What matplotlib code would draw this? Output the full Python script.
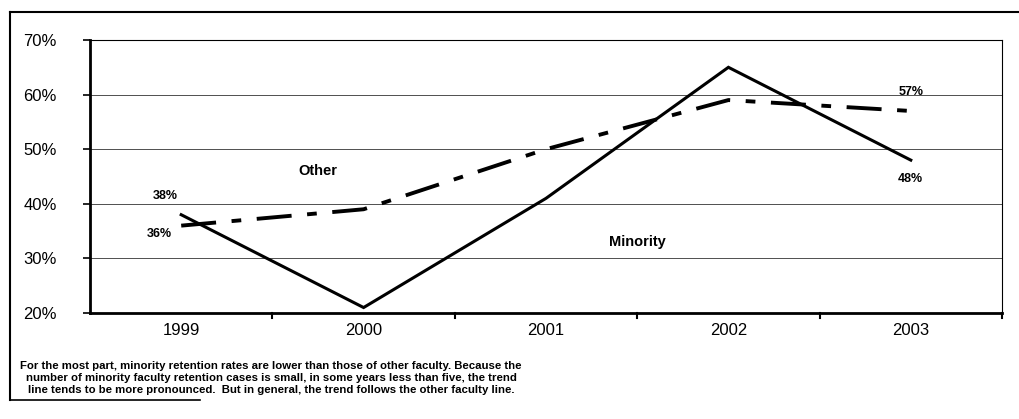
import matplotlib.pyplot as plt
from matplotlib.lines import Line2D

years = ["1999", "2000", "2001", "2002", "2003"]
minority = [38, 21, 41, 65, 48]
other = [36, 39, 50, 59, 57]
y_ticks = [20, 30, 40, 50, 60, 70]

plt.rcParams["font.family"] = ["Liberation Sans", "DejaVu Sans"]

fig = plt.figure(figsize=(10.2, 4.19), dpi=100)
ax = fig.add_axes([90 / 1020, 106 / 419, 912 / 1020, 273 / 419])

x = list(range(len(years)))

# gridlines
for v in y_ticks[1:-1]:
    ax.axhline(v, color="#333333", lw=0.6, zorder=1)

ax.plot(x, minority, color="black", lw=2.2, solid_joinstyle="miter", zorder=3)
ax.plot(x, other, color="black", lw=2.8, dashes=(9, 4, 2.5, 4), zorder=3)

ax.set_xlim(-0.5, len(years) - 0.5)
ax.set_ylim(20, 70)
ax.set_yticks(y_ticks)
ax.set_yticklabels([f"{v}%" for v in y_ticks], fontsize=12)
ax.set_xticks(x)
ax.set_xticklabels(years, fontsize=12)
ax.tick_params(axis="x", length=0, pad=7)
ax.tick_params(axis="y", length=5, width=1.2, direction="out", pad=19)
for s in [i + 0.5 for i in x]:
    ax.plot([s, s], [20, 19], color="black", lw=1.5, clip_on=False)

for side in ["left", "bottom"]:
    ax.spines[side].set_linewidth(2)
for side in ["top", "right"]:
    ax.spines[side].set_linewidth(0.8)

# series and value labels
lab = dict(fontsize=9, fontweight="bold", ha="center", va="center")
ax.text(0.75, 46, "Other", fontsize=10.5, fontweight="bold", ha="center", va="center")
ax.text(2.5, 33, "Minority", fontsize=10.5, fontweight="bold", ha="center", va="center")
ax.text(-0.09, minority[0] + 3.5, f"{minority[0]}%", **lab)
ax.text(-0.12, other[0] - 1.5, f"{other[0]}%", **lab)
ax.text(4.0, other[-1] + 3.5, f"{other[-1]}%", **lab)
ax.text(4.0, minority[-1] - 3.5, f"{minority[-1]}%", **lab)

caption = ("For the most part, minority retention rates are lower than those of other faculty. Because the\n"
           "number of minority faculty retention cases is small, in some years less than five, the trend\n"
           "line tends to be more pronounced.  But in general, the trend follows the other faculty line.")
fig.text(271 / 1020, 1 - 378 / 419, caption, fontsize=8.2, fontweight="bold",
         ha="center", va="center", linespacing=1.3)

# outer frame
fig.add_artist(Line2D([10 / 1020, 1.0], [1 - 12 / 419, 1 - 12 / 419], color="black", lw=1.5))
fig.add_artist(Line2D([10 / 1020, 10 / 1020], [1 - 12 / 419, 1 - 400 / 419], color="black", lw=1.5))
fig.add_artist(Line2D([10 / 1020, 200 / 1020], [1 - 400 / 419, 1 - 400 / 419], color="black", lw=1.2))

fig.savefig("out.png", dpi=100)
